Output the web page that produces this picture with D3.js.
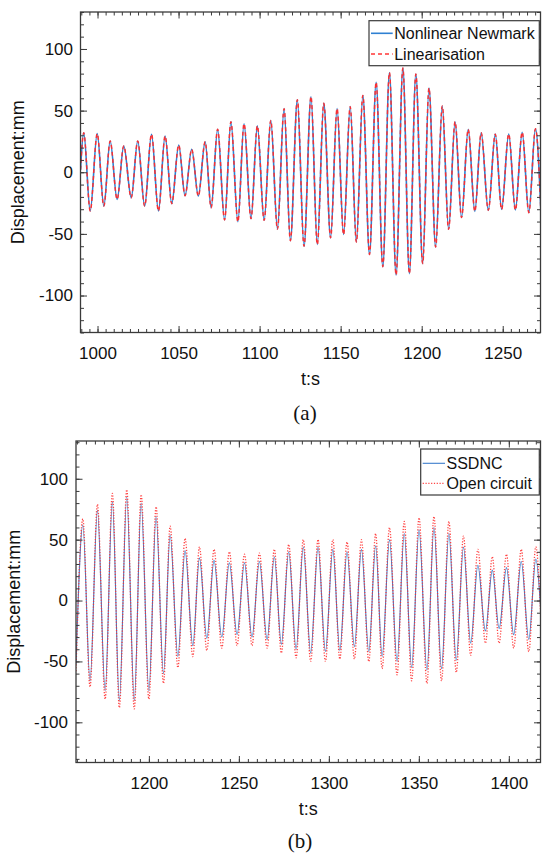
<!DOCTYPE html>
<html>
<head>
<meta charset="utf-8">
<script src="https://cdn.jsdelivr.net/npm/d3@7"></script>
<style>
  body { margin: 0; background: #fff; }
  svg { display: block; }
  text { font-family: "Liberation Sans", Arial, Helvetica, sans-serif; fill: #111; }
</style>
</head>
<body>
<svg id="fig" width="542" height="854"></svg>
<script>
// ---- Panel (a): displacement extrema, time in s, displacement in mm ----
const aTime = [989.5, 991.5, 995.5, 999.8, 1003.9, 1007.8, 1012.1, 1016.2, 1020.8, 1024.8, 1029.1,
  1033.3, 1037.6, 1041.7, 1045.8, 1050.1, 1054.0, 1058.1, 1062.2, 1066.4, 1070.1,
  1074.1, 1078.4, 1082.3, 1086.6, 1090.4, 1094.7, 1098.6, 1102.8, 1106.9, 1111.0,
  1115.1, 1119.0, 1123.3, 1127.4, 1131.7, 1135.6, 1139.6, 1143.8, 1147.8, 1151.8,
  1155.9, 1159.7, 1163.7, 1167.8, 1171.9, 1176.0, 1180.1, 1184.2, 1188.4, 1192.4,
  1196.4, 1200.6, 1204.5, 1208.6, 1212.7, 1216.6, 1220.6, 1224.6, 1228.7, 1232.8,
  1236.7, 1241.1, 1245.4, 1249.3, 1253.7, 1257.8, 1262.0, 1266.1, 1270.2, 1273.6];
const aNewmark = [2, 32, -31.4, 31.3, -27.4, 25.3, -22, 21.3, -20.6, 25.3, -27.4,
  30.8, -31.4, 29.4, -25.5, 22.1, -19, 18.6, -19.3, 24.8, -28.7,
  34.8, -38.7, 41, -40.1, 39.4, -37.6, 37.6, -39, 42, -46.1,
  51.6, -55.5, 58.8, -60, 61.3, -58.6, 55.9, -53.2, 51.6, -50.5,
  53.2, -56.5, 62.3, -66.7, 73, -76.6, 80.8, -83.3, 84.5, -82.2,
  79.7, -74.1, 68.3, -60.6, 53.7, -46.3, 41, -36.7, 34.8, -31.7,
  32.1, -30.9, 30.9, -30.1, 31, -30.6, 32.4, -32.8, 35.3, -33];
const aLinearisation = [2, 32, -31.4, 31.3, -27.4, 25.3, -22, 21.3, -20.6, 25.3, -27.4,
  30.8, -31.4, 29.4, -25.5, 22.1, -19, 18.6, -19.3, 24.8, -28.7,
  34.8, -38.7, 41, -40.1, 39.4, -37.6, 37.6, -39, 42, -46.1,
  51.6, -55.5, 58.8, -60, 61.3, -58.6, 55.9, -53.2, 51.6, -50.5,
  53.2, -56.5, 62.3, -66.7, 73, -76.6, 80.8, -83.3, 84.5, -82.2,
  79.7, -74.1, 68.3, -60.6, 53.7, -46.3, 41, -36.7, 34.8, -31.7,
  32.1, -30.9, 30.9, -30.1, 31, -30.6, 32.4, -32.8, 35.3, -33];
const aXTicks = [1000, 1050, 1100, 1150, 1200, 1250];

// ---- Panel (b): SSDNC against open circuit ----
const bTime = [1159.5, 1163.3, 1167.3, 1171.4, 1175.7, 1179.7, 1183.6, 1187.7, 1191.9, 1195.7, 1200.0,
  1204.0, 1208.1, 1211.8, 1216.1, 1220.1, 1224.4, 1228.1, 1232.2, 1236.2, 1240.5,
  1244.7, 1249.0, 1253.1, 1257.3, 1261.4, 1265.7, 1269.7, 1273.6, 1277.7, 1281.8,
  1285.8, 1289.9, 1294.0, 1298.1, 1302.2, 1306.1, 1310.1, 1314.2, 1318.1, 1322.2,
  1326.0, 1329.6, 1333.7, 1337.9, 1341.9, 1346.0, 1350.1, 1354.5, 1358.4, 1362.6,
  1366.7, 1370.8, 1374.8, 1378.8, 1382.8, 1387.0, 1390.8, 1394.6, 1398.7, 1402.7,
  1406.9, 1411.1, 1415.0, 1417.9];
const bSSDNC = [-52, 62, -66, 74, -74, 81, -82, 85, -82, 80, -74,
  69, -60, 54, -46, 41, -37, 35, -31, 33, -30,
  31, -28, 31, -30, 32, -32, 36, -36, 40, -40,
  44, -43, 44, -42, 42, -41, 40, -38, 42, -42,
  45, -46, 50, -50, 55, -55, 58, -57, 60, -56,
  55, -49, 44, -35, 29, -25, 25, -23, 27, -28,
  32, -32, 34, -12];
const bOpenCircuit = [-58, 67, -71, 79, -81, 88, -88, 91, -89, 87, -81,
  77, -68, 61, -55, 51, -46, 44, -41, 42, -39,
  40, -37, 38, -37, 39, -39, 42, -43, 46, -47,
  50, -50, 50, -50, 50, -48, 48, -48, 50, -50,
  55, -56, 60, -61, 65, -66, 68, -68, 69, -66,
  65, -59, 53, -45, 42, -35, 36, -35, 38, -39,
  42, -42, 44, -18];
const bXTicks = [1200, 1250, 1300, 1350, 1400];

const yTicks = [-100, -50, 0, 50, 100];

const svg = d3.select("#fig");

function drawPanel(cfg) {
  const g = svg.append("g");
  const x = d3.scaleLinear().domain(cfg.xDomain).range([cfg.left, cfg.right]);
  const y = d3.scaleLinear().domain(cfg.yDomain).range([cfg.bottom, cfg.top]);

  const clipId = "clip-" + cfg.id;
  g.append("clipPath").attr("id", clipId)
    .append("rect")
    .attr("x", cfg.left).attr("y", cfg.top)
    .attr("width", cfg.right - cfg.left).attr("height", cfg.bottom - cfg.top);

  // response curves through the read extrema
  const plot = g.append("g").attr("clip-path", `url(#${clipId})`);
  cfg.series.forEach(s => {
    const pts = cfg.time.map((t, i) => [t, s.values[i]]);
    const line = d3.line().x(d => x(d[0])).y(d => y(d[1])).curve(d3.curveMonotoneX);
    plot.append("path")
      .attr("d", line(pts))
      .attr("fill", "none")
      .attr("stroke", s.color)
      .attr("stroke-width", s.width)
      .attr("stroke-dasharray", s.dash || null)
      .attr("stroke-opacity", s.opacity || 1);
  });

  // axis ticks (inward, on all four sides)
  const minorX = d3.range(Math.ceil(cfg.xDomain[0] / 5) * 5, cfg.xDomain[1] + 0.01, 5);
  const minorY = d3.range(-130, 131, 10).filter(v => v >= cfg.yDomain[0] && v <= cfg.yDomain[1]);
  const tickColor = "#3a3a3a";

  function addAxis(axis, transform, labels) {
    const a = g.append("g").attr("transform", transform).call(axis);
    a.select(".domain").remove();
    a.selectAll(".tick line").attr("stroke", tickColor).attr("stroke-width", 1);
    a.selectAll(".tick text")
      .style("font-family", '"Liberation Sans", Arial, sans-serif')
      .style("font-size", "17px")
      .attr("fill", "#111");
    if (!labels) a.selectAll(".tick text").remove();
    return a;
  }

  addAxis(d3.axisBottom(x).tickValues(minorX).tickSize(-3.5).tickFormat(""), `translate(0,${cfg.bottom})`, false);
  addAxis(d3.axisTop(x).tickValues(minorX).tickSize(-3.5).tickFormat(""), `translate(0,${cfg.top})`, false);
  addAxis(d3.axisBottom(x).tickValues(cfg.xTicks).tickSize(-6.5).tickPadding(14).tickFormat(d3.format("d")),
    `translate(0,${cfg.bottom})`, true);
  addAxis(d3.axisTop(x).tickValues(cfg.xTicks).tickSize(-6.5).tickFormat(""), `translate(0,${cfg.top})`, false);

  addAxis(d3.axisLeft(y).tickValues(minorY).tickSize(-3.5).tickFormat(""), `translate(${cfg.left},0)`, false);
  addAxis(d3.axisRight(y).tickValues(minorY).tickSize(-3.5).tickFormat(""), `translate(${cfg.right},0)`, false);
  addAxis(d3.axisLeft(y).tickValues(yTicks).tickSize(-6.5).tickPadding(cfg.yPad).tickFormat(d => String(d)),
    `translate(${cfg.left},0)`, true);
  addAxis(d3.axisRight(y).tickValues(yTicks).tickSize(-6.5).tickFormat(""), `translate(${cfg.right},0)`, false);

  // frame
  g.append("rect")
    .attr("x", cfg.left).attr("y", cfg.top)
    .attr("width", cfg.right - cfg.left).attr("height", cfg.bottom - cfg.top)
    .attr("fill", "none").attr("stroke", "#3a3a3a").attr("stroke-width", 1.3);

  // axis titles
  g.append("text")
    .attr("x", (cfg.left + cfg.right) / 2).attr("y", cfg.bottom + 52)
    .attr("text-anchor", "middle").style("font-size", "18px")
    .text("t:s");
  g.append("text")
    .attr("transform", `translate(${cfg.yLabelX},${(cfg.top + cfg.bottom) / 2}) rotate(-90)`)
    .attr("text-anchor", "middle").style("font-size", "18px")
    .text("Displacement:mm");

  // panel caption
  g.append("text")
    .attr("x", cfg.captionX).attr("y", cfg.captionY)
    .attr("text-anchor", "middle")
    .style("font-family", '"Liberation Serif", "Times New Roman", serif')
    .style("font-size", "21px")
    .text(cfg.caption);

  // legend
  const L = cfg.legend;
  g.append("rect")
    .attr("x", L.x).attr("y", L.y).attr("width", L.w).attr("height", L.h)
    .attr("fill", "#fff").attr("stroke", "#3a3a3a").attr("stroke-width", 1.2);
  cfg.series.forEach((s, i) => {
    const ry = L.y + L.rowY[i];
    g.append("line")
      .attr("x1", L.x + 2).attr("x2", L.x + L.sample)
      .attr("y1", ry).attr("y2", ry)
      .attr("stroke", s.color).attr("stroke-width", s.width)
      .attr("stroke-dasharray", s.dash || null)
      .attr("stroke-opacity", s.opacity || 1);
    g.append("text")
      .attr("x", L.x + L.sample + 1.5).attr("y", ry)
      .attr("dy", "0.35em").style("font-size", "16px")
      .text(s.name);
  });
}

drawPanel({
  id: "a",
  left: 80.5, right: 540.5, top: 12, bottom: 332.5,
  xDomain: [989.5, 1273.3], yDomain: [-130, 130],
  xTicks: aXTicks, yPad: 7.5,
  time: aTime,
  series: [
    { name: "Nonlinear Newmark", values: aNewmark, color: "#2f80d2", width: 1.6 },
    { name: "Linearisation", values: aLinearisation, color: "#ff2b2b", width: 1.5, dash: "4,3", opacity: 0.95 }
  ],
  yLabelX: 24, captionX: 305, captionY: 420, caption: "(a)",
  legend: { x: 369, y: 20.7, w: 170.3, h: 45, rowY: [12.6, 33.3], sample: 23.7 }
});

drawPanel({
  id: "b",
  left: 76, right: 540.5, top: 441, bottom: 762.5,
  xDomain: [1159.5, 1417.6], yDomain: [-133, 131],
  xTicks: bXTicks, yPad: 8,
  time: bTime,
  series: [
    { name: "SSDNC", values: bSSDNC, color: "#3b7ccc", width: 1.1 },
    { name: "Open circuit", values: bOpenCircuit, color: "#ff3030", width: 1.3, dash: "1.2,1.6", opacity: 0.9 }
  ],
  yLabelX: 20, captionX: 300, captionY: 848, caption: "(b)",
  legend: { x: 420.7, y: 449, w: 118.6, h: 46, rowY: [14.3, 34.3], sample: 24.3 }
});
</script>
</body>
</html>
